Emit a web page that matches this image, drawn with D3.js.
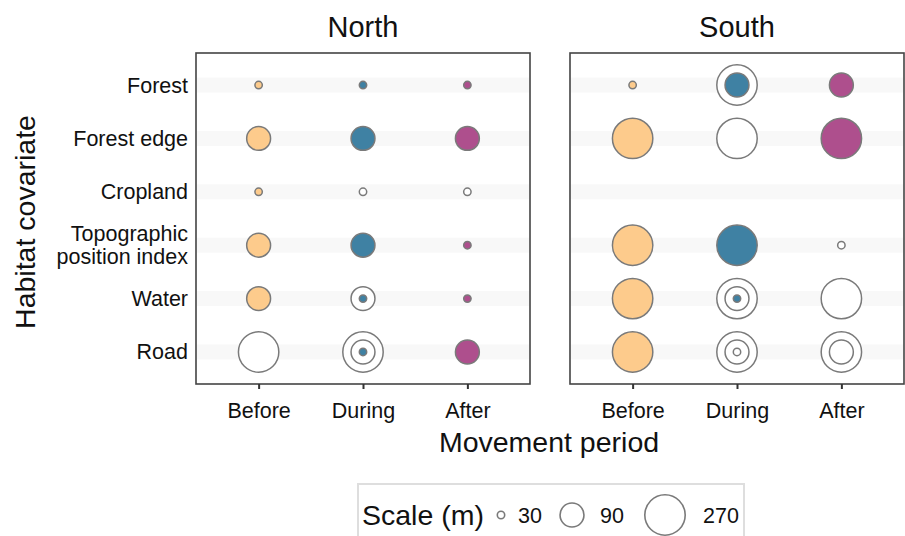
<!DOCTYPE html>
<html>
<head>
<meta charset="utf-8">
<script src="https://cdn.jsdelivr.net/npm/d3@7"></script>
<style>
  html, body { margin: 0; padding: 0; background: #fff; }
  svg { display: block; font-family: "Liberation Sans", Arial, Helvetica, sans-serif; }
</style>
</head>
<body>
<svg id="chart" width="905" height="536"></svg>
<script>
// Categories
const regions = ["North", "South"];
const periods = ["Before", "During", "After"];
const covariates = ["Forest", "Forest edge", "Cropland", "Topographic position index", "Water", "Road"];
const covariateLines = [["Forest"], ["Forest edge"], ["Cropland"], ["Topographic", "position index"], ["Water"], ["Road"]];
const scaleValues = [30, 90, 270];

// Selected scales per region: [covariate, period, scale (m), significant]
const northPoints = [
  ["Forest", "Before", 30, true],
  ["Forest", "During", 30, true],
  ["Forest", "After", 30, true],
  ["Forest edge", "Before", 90, true],
  ["Forest edge", "During", 90, true],
  ["Forest edge", "After", 90, true],
  ["Cropland", "Before", 30, true],
  ["Cropland", "During", 30, false],
  ["Cropland", "After", 30, false],
  ["Topographic position index", "Before", 90, true],
  ["Topographic position index", "During", 90, true],
  ["Topographic position index", "After", 30, true],
  ["Water", "Before", 90, true],
  ["Water", "During", 90, false],
  ["Water", "During", 30, true],
  ["Water", "After", 30, true],
  ["Road", "Before", 270, false],
  ["Road", "During", 270, false],
  ["Road", "During", 90, false],
  ["Road", "During", 30, true],
  ["Road", "After", 90, true]
];
const southPoints = [
  ["Forest", "Before", 30, true],
  ["Forest", "During", 270, false],
  ["Forest", "During", 90, true],
  ["Forest", "After", 90, true],
  ["Forest edge", "Before", 270, true],
  ["Forest edge", "During", 270, false],
  ["Forest edge", "After", 270, true],
  ["Topographic position index", "Before", 270, true],
  ["Topographic position index", "During", 270, true],
  ["Topographic position index", "After", 30, false],
  ["Water", "Before", 270, true],
  ["Water", "During", 270, false],
  ["Water", "During", 90, false],
  ["Water", "During", 30, true],
  ["Water", "After", 270, false],
  ["Road", "Before", 270, true],
  ["Road", "During", 270, false],
  ["Road", "During", 90, false],
  ["Road", "During", 30, false],
  ["Road", "After", 270, false],
  ["Road", "After", 90, false]
];
const pointsByRegion = { North: northPoints, South: southPoints };

const periodColors = { Before: "#FDCB8C", During: "#3F81A3", After: "#AE4F8D" };
const outline = "#7a7a7a";
const textColor = "#111111";

const svg = d3.select("#chart");

// Layout
const panelTop = 53, panelBottom = 384, panelW = 334;
const panelLefts = { North: 196, South: 570 };

const y = d3.scalePoint().domain(covariates).range([panelTop, panelBottom]).padding(0.6);

// Area-style size scale: radius grows with the square root of the rescaled value
const unit = d3.scaleLinear().domain([scaleValues[0], scaleValues[scaleValues.length - 1]]).range([0, 1]);
const radiusLin = d3.scaleLinear().domain([0, 1]).range([3.7, 20.2]);
const r = v => radiusLin(Math.sqrt(unit(v)));

regions.forEach(region => {
  const left = panelLefts[region];
  const x = d3.scalePoint().domain(periods).range([left, left + panelW]).padding(0.6);
  const g = svg.append("g");

  // Row stripes
  g.selectAll("rect.stripe").data(covariates).join("rect")
    .attr("class", "stripe")
    .attr("x", left + 1).attr("width", panelW - 2)
    .attr("y", d => y(d) - 7.5).attr("height", 15)
    .attr("fill", "#f8f8f8");

  // Circles: largest first so the smaller ones sit on top
  const pts = pointsByRegion[region].slice().sort((a, b) => b[2] - a[2]);
  g.selectAll("circle.pt").data(pts).join("circle")
    .attr("class", "pt")
    .attr("cx", d => x(d[1]))
    .attr("cy", d => y(d[0]))
    .attr("r", d => r(d[2]))
    .attr("fill", d => d[3] ? periodColors[d[1]] : "#ffffff")
    .attr("stroke", outline)
    .attr("stroke-width", 1.5);

  // Panel border
  g.append("rect")
    .attr("x", left).attr("y", panelTop)
    .attr("width", panelW).attr("height", panelBottom - panelTop)
    .attr("fill", "none").attr("stroke", "#444").attr("stroke-width", 1.6);

  // Facet title
  g.append("text")
    .attr("x", left + panelW / 2).attr("y", 37)
    .attr("text-anchor", "middle")
    .attr("font-size", 29).attr("fill", textColor)
    .text(region);

  // Bottom axis
  const axis = d3.axisBottom(x).tickSize(5).tickPadding(14);
  const ax = g.append("g").attr("transform", `translate(0,${panelBottom})`).call(axis);
  ax.select(".domain").remove();
  ax.selectAll(".tick line").attr("stroke", "#333").attr("stroke-width", 2);
  ax.selectAll(".tick text")
    .attr("font-size", 21.5).attr("fill", textColor)
    .attr("font-family", "'Liberation Sans', Arial, sans-serif");
});

// Y tick labels (left panel only)
const yLab = svg.append("g");
covariates.forEach((c, i) => {
  const lines = covariateLines[i];
  const lh = 22.5;
  const t = yLab.append("text")
    .attr("text-anchor", "end")
    .attr("font-size", 21.5).attr("fill", textColor);
  lines.forEach((ln, j) => {
    const off = (j - (lines.length - 1) / 2) * lh;
    t.append("tspan").attr("x", 188).attr("y", y(c) + off + 7.5).text(ln);
  });
});

// Axis titles
svg.append("text")
  .attr("transform", "translate(35,222) rotate(-90)")
  .attr("text-anchor", "middle")
  .attr("font-size", 28.5).attr("fill", textColor)
  .text("Habitat covariate");

svg.append("text")
  .attr("x", 549).attr("y", 452)
  .attr("text-anchor", "middle")
  .attr("font-size", 28.5).attr("fill", textColor)
  .text("Movement period");

// Size legend
const leg = svg.append("g");
leg.append("rect")
  .attr("x", 358).attr("y", 484).attr("width", 386).attr("height", 70)
  .attr("fill", "#fff").attr("stroke", "#dedede").attr("stroke-width", 2);
leg.append("text")
  .attr("x", 362).attr("y", 525)
  .attr("font-size", 28.5).attr("fill", textColor)
  .text("Scale (m)");

const legendCx = [501, 572, 665];
const legendTx = [518, 600, 703];
const legendCy = 515;
leg.selectAll("circle").data(scaleValues).join("circle")
  .attr("cx", (d, i) => legendCx[i]).attr("cy", legendCy)
  .attr("r", d => r(d))
  .attr("fill", "#fff").attr("stroke", outline).attr("stroke-width", 1.6);
leg.selectAll("text.lab").data(scaleValues).join("text")
  .attr("class", "lab")
  .attr("x", (d, i) => legendTx[i]).attr("y", legendCy + 8)
  .attr("font-size", 21.5).attr("fill", textColor)
  .text(d => d);
</script>
</body>
</html>
